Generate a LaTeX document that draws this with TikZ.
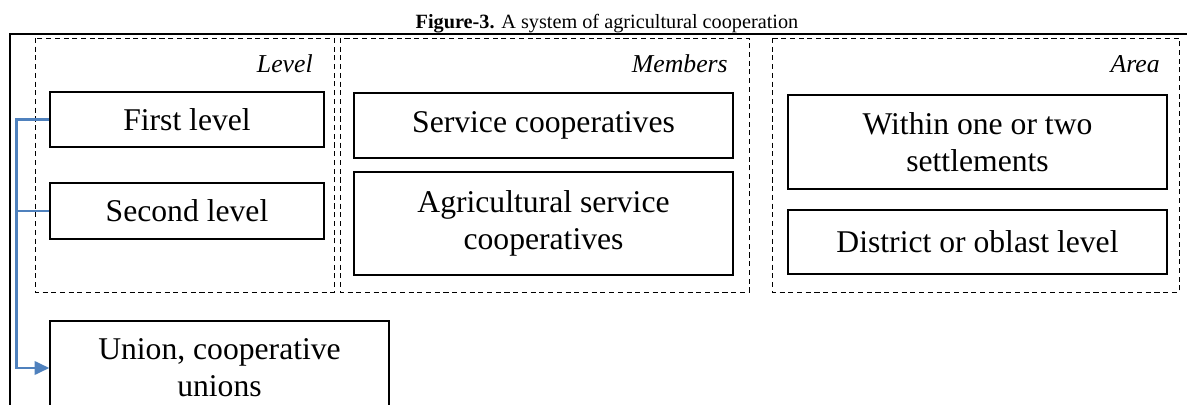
\documentclass[tikz,border=0pt]{standalone}
\usepackage{fontspec}
\setmainfont{Liberation Serif}
\usepackage{xcolor}
\usepackage{tikz}
\usetikzlibrary{arrows.meta}

\definecolor{linkblue}{HTML}{4F81BD}

\tikzset{
  cell/.style={draw, line width=0.9pt, align=center, inner sep=2pt,
    font=\fontsize{22.5pt}{26.3pt}\selectfont},
  group/.style={draw, line width=0.7pt, dash pattern=on 3.6pt off 2.6pt},
  grouplabel/.style={anchor=base east, inner sep=0pt,
    font=\fontsize{18.3pt}{22pt}\selectfont\itshape},
  link/.style={draw=linkblue, line width=1.9pt,
    -{Triangle[length=10.5pt,width=9.5pt]}}
}

\begin{document}
\begin{tikzpicture}[x=0.025cm, y=-0.025cm]
        \useasboundingbox (0,0) rectangle (1187,405);
        \clip (0,0) rectangle (1187,405);

        % caption and outer frame
        \node[anchor=base, inner sep=0pt, font=\fontsize{14.4pt}{17pt}\selectfont] (caption) at (607,29)
            {\textbf{Figure-3.} A system of agricultural cooperation};
        \draw[line width=1.6pt] (10,410) -- (10,34) -- (1190,34);

        % dashed groups
        \draw[group] (35,38) rectangle (334,292);
        \draw[group] (340,38) rectangle (749,292);
        \draw[group] (772,38) rectangle (1179,292);

        \node[grouplabel] (levellbl) at (313,73) {Level};
        \node[grouplabel] (memberslbl) at (728,73) {Members};
        \node[grouplabel] (arealbl) at (1160,73) {Area};

        % level
        \node[cell, minimum width=6.85cm, minimum height=1.375cm] (first) at (187,119.5) {First level};
        \node[cell, minimum width=6.85cm, minimum height=1.4cm] (second) at (187,211) {Second level};

        % members
        \node[cell, minimum width=9.475cm, minimum height=1.625cm] (service) at (543.5,125.5) {Service cooperatives};
        \node[cell, minimum width=9.475cm, minimum height=2.575cm] (agri) at (543.5,223.5) {Agricultural service\\cooperatives};

        % area
        \node[cell, minimum width=9.475cm, minimum height=2.35cm] (within) at (977.5,142) {Within one or two\\settlements};
        \node[cell, minimum width=9.475cm, minimum height=1.6cm] (district) at (977.5,242) {District or oblast level};

        % union
        \node[cell, minimum width=8.475cm, minimum height=2.35cm] (union) at (219.5,368) {Union, cooperative\\unions};

        % connectors
        \draw[link] (first.west) -- ++(-33,0) coordinate (trunk) |- (union.west);
        \draw[link, -] (second.west) -- (second.west -| trunk);
    \end{tikzpicture}
\end{document}
